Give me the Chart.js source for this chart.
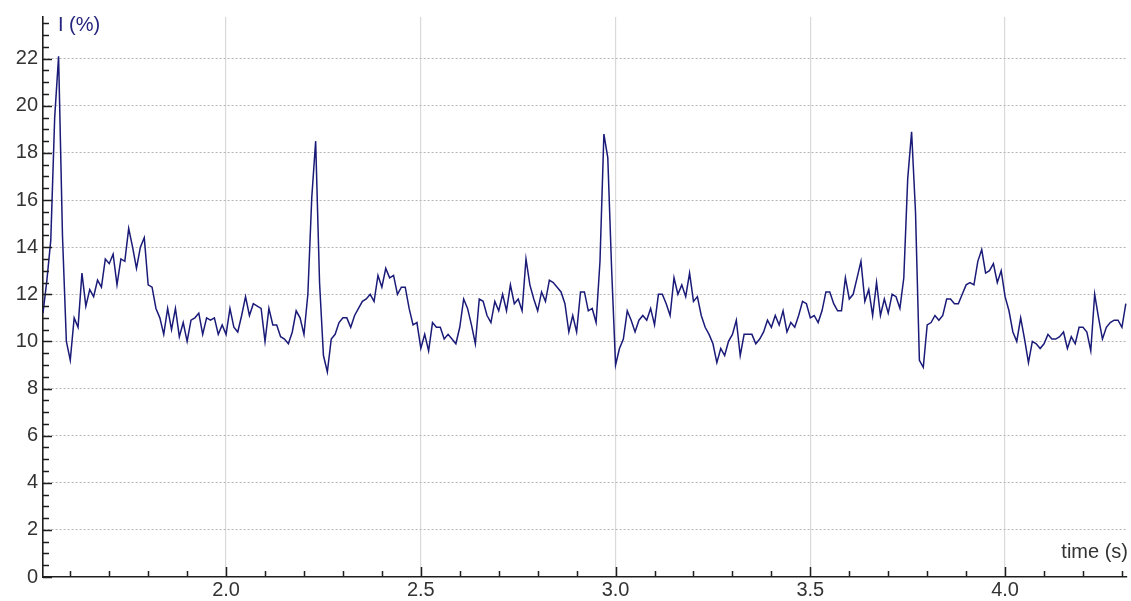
<!DOCTYPE html>
<html>
<head>
<meta charset="utf-8">
<script src="https://cdn.jsdelivr.net/npm/chart.js@4.4.1/dist/chart.umd.min.js"></script>
<style>
  html, body { margin: 0; padding: 0; background: #fff; }
  #wrap { width: 1131px; height: 601px; position: relative; }
</style>
</head>
<body>
<div id="wrap"><canvas id="signalChart"></canvas></div>
<script>
// Sample times (s) at ~0.01 s spacing
const times = [
  1.53,1.54,1.55,1.56,1.57,1.58,1.59,1.60,1.61,1.62,
  1.63,1.64,1.65,1.66,1.67,1.68,1.69,1.70,1.71,1.72,
  1.73,1.74,1.75,1.76,1.77,1.78,1.79,1.80,1.81,1.82,
  1.83,1.84,1.85,1.86,1.87,1.88,1.89,1.90,1.91,1.92,
  1.93,1.94,1.95,1.96,1.97,1.98,1.99,2.00,2.01,2.02,
  2.03,2.04,2.05,2.06,2.07,2.08,2.09,2.10,2.11,2.12,
  2.13,2.14,2.15,2.16,2.17,2.18,2.19,2.20,2.21,2.22,
  2.23,2.24,2.25,2.26,2.27,2.28,2.29,2.30,2.31,2.32,
  2.33,2.34,2.35,2.36,2.37,2.38,2.39,2.40,2.41,2.42,
  2.43,2.44,2.45,2.46,2.47,2.48,2.49,2.50,2.51,2.52,
  2.53,2.54,2.55,2.56,2.57,2.58,2.59,2.60,2.61,2.62,
  2.63,2.64,2.65,2.66,2.67,2.68,2.69,2.70,2.71,2.72,
  2.73,2.74,2.75,2.76,2.77,2.78,2.79,2.80,2.81,2.82,
  2.83,2.84,2.85,2.86,2.87,2.88,2.89,2.90,2.91,2.92,
  2.93,2.94,2.95,2.96,2.97,2.98,2.99,3.00,3.01,3.02,
  3.03,3.04,3.05,3.06,3.07,3.08,3.09,3.10,3.11,3.12,
  3.13,3.14,3.15,3.16,3.17,3.18,3.19,3.20,3.21,3.22,
  3.23,3.24,3.25,3.26,3.27,3.28,3.29,3.30,3.31,3.32,
  3.33,3.34,3.35,3.36,3.37,3.38,3.39,3.40,3.41,3.42,
  3.43,3.44,3.45,3.46,3.47,3.48,3.49,3.50,3.51,3.52,
  3.53,3.54,3.55,3.56,3.57,3.58,3.59,3.60,3.61,3.62,
  3.63,3.64,3.65,3.66,3.67,3.68,3.69,3.70,3.71,3.72,
  3.73,3.74,3.75,3.76,3.77,3.78,3.79,3.80,3.81,3.82,
  3.83,3.84,3.85,3.86,3.87,3.88,3.89,3.90,3.91,3.92,
  3.93,3.94,3.95,3.96,3.97,3.98,3.99,4.00,4.01,4.02,
  4.03,4.04,4.05,4.06,4.07,4.08,4.09,4.10,4.11,4.12,
  4.13,4.14,4.15,4.16,4.17,4.18,4.19,4.20,4.21,4.22,
  4.23,4.24,4.25,4.26,4.27,4.28,4.29,4.30,4.31
];

// I (%) at each sample time
const intensity = [
  11.2,12.6,14.3,19.5,22.1,14.5,10.0, 9.2,11.0,10.6,
  12.9,11.5,12.2,11.9,12.6,12.3,13.5,13.3,13.7,12.4,
  13.5,13.4,14.8,14.0,13.1,14.0,14.4,12.4,12.3,11.4,
  11.0,10.3,11.4,10.5,11.4,10.2,10.8,10.0,10.9,11.0,
  11.2,10.3,11.0,10.9,11.0,10.3,10.7,10.3,11.4,10.6,
  10.4,11.1,11.9,11.1,11.6,11.5,11.4,10.0,11.4,10.7,
  10.7,10.2,10.1, 9.9,10.4,11.3,11.0,10.3,12.0,16.1,
  18.5,12.5, 9.4, 8.7,10.1,10.3,10.8,11.0,11.0,10.6,
  11.1,11.4,11.7,11.8,12.0,11.7,12.8,12.3,13.1,12.7,
  12.8,12.0,12.3,12.3,11.4,10.7,10.8, 9.7,10.3, 9.6,
  10.8,10.6,10.6,10.1,10.3,10.1, 9.9,10.6,11.8,11.4,
  10.7, 9.9,11.8,11.7,11.1,10.8,11.7,11.3,12.0,11.3,
  12.4,11.6,11.8,11.3,13.5,12.4,11.8,11.3,12.1,11.7,
  12.6,12.5,12.3,12.1,11.6,10.4,11.1,10.4,12.1,12.1,
  11.3,11.4,10.8,13.4,18.8,17.8,13.0, 9.0, 9.7,10.1,
  11.3,10.9,10.4,10.9,11.1,10.9,11.4,10.7,12.0,12.0,
  11.6,11.1,12.7,12.0,12.4,11.9,12.9,11.7,11.9,11.1,
  10.6,10.3, 9.9, 9.1, 9.7, 9.4,10.0,10.3,10.9, 9.4,
  10.3,10.3,10.3, 9.9,10.1,10.4,10.9,10.6,11.1,10.7,
  11.3,10.4,10.8,10.6,11.1,11.7,11.6,11.0,11.1,10.8,
  11.3,12.1,12.1,11.6,11.3,11.3,12.7,11.8,12.0,12.7,
  13.4,11.7,12.2,11.1,12.5,11.1,11.8,11.2,12.0,11.9,
  11.4,12.7,16.9,18.9,15.5, 9.2, 8.9,10.7,10.8,11.1,
  10.9,11.1,11.8,11.8,11.6,11.6,12.0,12.4,12.5,12.4,
  13.4,13.9,12.9,13.0,13.3,12.5,13.0,11.9,11.3,10.4,
  10.0,11.0,10.1, 9.1,10.0, 9.9, 9.7, 9.9,10.3,10.1,
  10.1,10.2,10.4, 9.7,10.2, 9.9,10.6,10.6,10.4, 9.6,
  12.0,11.0,10.1,10.6,10.8,10.9,10.9,10.6,11.6
];

const X_MIN = 1.53, X_MAX = 4.313;
const Y_MIN = 0, Y_MAX = 23.77;
const X_STEP = 0.1, X_LABEL_EVERY = 0.5;
const Y_STEP = 0.5, Y_LABEL_EVERY = 2;
const xTitle = 'time (s)';
const yTitle = 'I (%)';

const FONT = '"Liberation Sans", Arial, Helvetica, sans-serif';

function onStep(v, step) {
    const r = v / step;
    return Math.abs(r - Math.round(r)) < 1e-6;
}

// Mathematica-style inward tick marks plus the two axis labels
const innerTicks = {
    id: 'innerTicks',
    afterDatasetsDraw(chart) {
        const { ctx, chartArea: a, scales: { x, y } } = chart;
        ctx.save();
        ctx.strokeStyle = '#1e1e1e';
        ctx.lineWidth = 1.5;
        ctx.beginPath();
        x.ticks.forEach(t => {
            if (!onStep(t.value, X_STEP)) return;
            const px = Math.round(x.getPixelForValue(t.value)) + 0.5;
            const len = onStep(t.value, X_LABEL_EVERY) ? 10 : 6;
            ctx.moveTo(px, a.bottom);
            ctx.lineTo(px, a.bottom - len);
        });
        y.ticks.forEach(t => {
            if (!onStep(t.value, Y_STEP)) return;
            const py = Math.round(y.getPixelForValue(t.value)) + 0.5;
            const len = onStep(t.value, Y_LABEL_EVERY) ? 9 : 6;
            ctx.moveTo(a.left, py);
            ctx.lineTo(a.left + len, py);
        });
        ctx.stroke();

        ctx.font = '20px ' + FONT;
        ctx.textBaseline = 'alphabetic';
        ctx.fillStyle = '#25257f';
        ctx.textAlign = 'left';
        ctx.fillText(yTitle, a.left + 15, a.top + 14);
        ctx.fillStyle = '#333';
        ctx.textAlign = 'right';
        ctx.fillText(xTitle, a.right + 1, a.bottom - 19);
        ctx.restore();
    }
};

function initChart() {
    const ctx = document.getElementById('signalChart').getContext('2d');

    new Chart(ctx, {
        type: 'line',
        data: {
            datasets: [{
                label: yTitle,
                data: times.map((t, i) => ({ x: t, y: intensity[i] })),
                borderColor: '#1a1a78',
                borderWidth: 1.5,
                pointRadius: 0,
                tension: 0,
                fill: false
            }]
        },
        options: {
            responsive: true,
            maintainAspectRatio: false,
            animation: false,
            layout: { padding: { top: 15, right: 4, left: 0, bottom: 0 } },
            plugins: {
                legend: { display: false },
                tooltip: { enabled: false }
            },
            scales: {
                x: {
                    type: 'linear',
                    min: X_MIN,
                    max: X_MAX,
                    afterFit: s => { s.height = 24; },
                    border: { display: true, color: '#1e1e1e', width: 1.6 },
                    grid: {
                        drawTicks: false,
                        lineWidth: 1.2,
                        color: c => onStep(c.tick.value, X_LABEL_EVERY) ? '#d9d9d9' : 'rgba(0,0,0,0)'
                    },
                    ticks: {
                        stepSize: X_STEP,
                        includeBounds: false,
                        autoSkip: false,
                        maxRotation: 0,
                        padding: 1,
                        color: '#333',
                        font: { family: FONT, size: 20 },
                        callback: v => onStep(v, X_LABEL_EVERY) ? v.toFixed(1) : ''
                    }
                },
                y: {
                    type: 'linear',
                    min: Y_MIN,
                    max: Y_MAX,
                    afterFit: s => { s.width = 43; },
                    border: { display: true, color: '#1e1e1e', width: 1.6, dash: [2, 2] },
                    grid: {
                        drawTicks: false,
                        lineWidth: 1,
                        color: c => (onStep(c.tick.value, Y_LABEL_EVERY) && c.tick.value > 0) ? '#b4b4b4' : 'rgba(0,0,0,0)'
                    },
                    ticks: {
                        stepSize: Y_STEP,
                        includeBounds: false,
                        autoSkip: false,
                        padding: 5,
                        color: '#333',
                        font: { family: FONT, size: 20 },
                        callback: v => onStep(v, Y_LABEL_EVERY) ? String(v) : ''
                    }
                }
            }
        },
        plugins: [innerTicks]
    });
}

document.addEventListener('DOMContentLoaded', initChart);
</script>
</body>
</html>
